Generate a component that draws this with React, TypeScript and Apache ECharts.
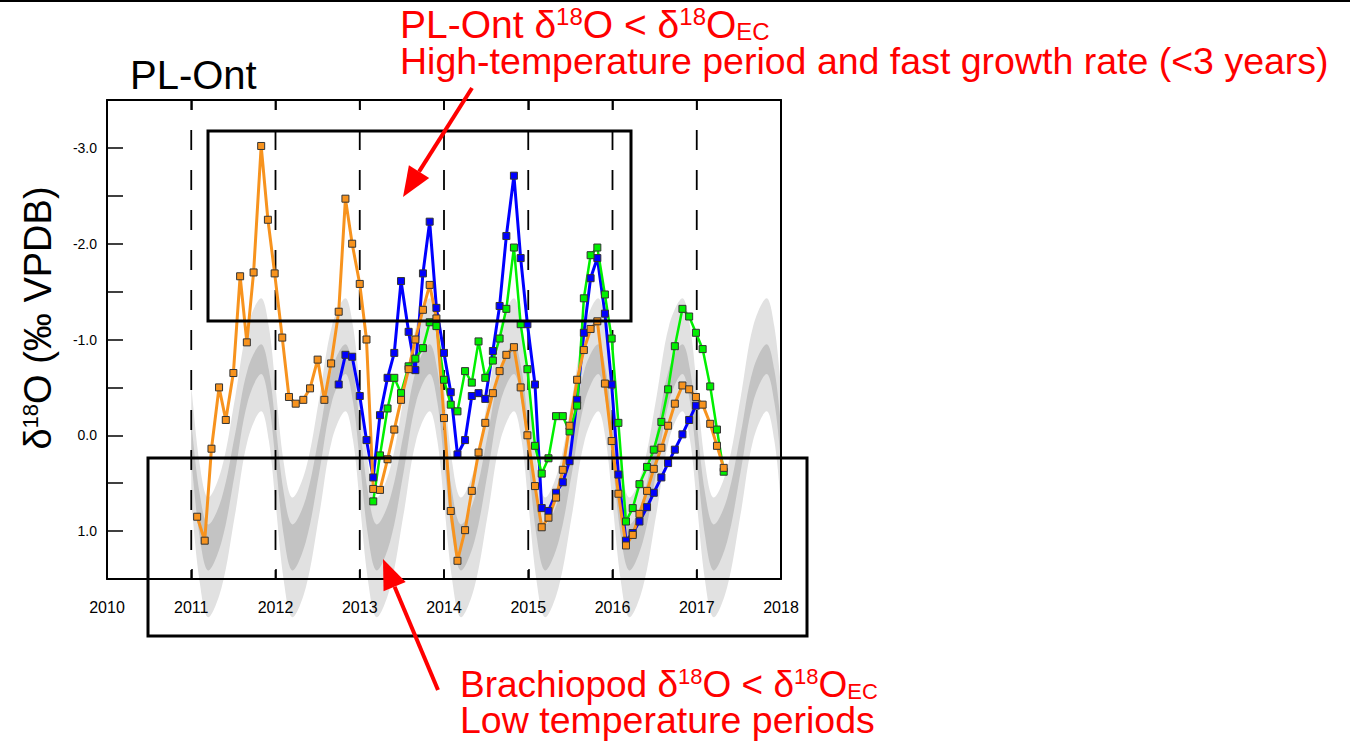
import React, { useEffect, useRef } from "react";
import * as echarts from "echarts";

// Monthly sampling dates (decimal years)
const months = [
  2011.07, 2011.16, 2011.24, 2011.33, 2011.41, 2011.5, 2011.58, 2011.66, 2011.74, 2011.83,
  2011.91, 2011.99, 2012.08, 2012.16, 2012.24, 2012.33, 2012.41, 2012.5, 2012.58, 2012.66,
  2012.75, 2012.83, 2012.91, 2013.0, 2013.08, 2013.16, 2013.24, 2013.33, 2013.41, 2013.49,
  2013.58, 2013.66, 2013.75, 2013.83, 2013.91, 2014.0, 2014.08, 2014.16, 2014.25, 2014.33,
  2014.41, 2014.49, 2014.58, 2014.66, 2014.74, 2014.83, 2014.91, 2014.99, 2015.08, 2015.16,
  2015.24, 2015.33, 2015.41, 2015.49, 2015.58, 2015.66, 2015.74, 2015.82, 2015.91, 2015.99,
  2016.07, 2016.16, 2016.24, 2016.32, 2016.41, 2016.49, 2016.58, 2016.66, 2016.74, 2016.83,
  2016.91, 2016.99, 2017.07, 2017.16, 2017.24, 2017.32,
];

// Orange profile (starts at months[0])
const orangeValues = [
  0.85, 1.1, 0.14, -0.5, -0.16, -0.65, -1.66, -0.97, -1.7, -3.02,
  -2.25, -1.69, -1.02, -0.4, -0.33, -0.37, -0.49, -0.79, -0.37, -0.75,
  -1.29, -2.47, -2.0, -1.58, -1.0, 0.56, 0.57, 0.25, -0.06, -0.37,
  -0.69, -1.0, -1.31, -1.57, -1.22, -0.18, 0.79, 1.31, 0.99, 0.58,
  0.18, -0.13, -0.44, -0.67, -0.84, -0.92, -0.5, 0.0, 0.53, 0.96,
  0.86, 0.65, 0.36, -0.1, -0.58, -0.89, -1.11, -1.19, -0.54, 0.06,
  0.61, 1.15, 1.04, 0.82, 0.58, 0.35, 0.13, -0.1, -0.33, -0.52,
  -0.48, -0.4, -0.32, -0.12, 0.11, 0.34,
];

// Blue profile (starts at months[20])
const blueStart = 20;
const blueValues = [
  -0.53, -0.84, -0.82, -0.41, 0.05, 0.44, -0.21, -0.6, -0.86, -1.61,
  -1.08, -0.68, -1.69, -2.23, -1.33, -0.86, -0.45, 0.2, 0.05, -0.41,
  -0.44, -0.38, -0.88, -1.35, -2.08, -2.71, -1.85, -1.16, -0.53, 0.76,
  0.79, 0.6, 0.49, 0.27, -0.37, -1.07, -1.64, -1.85, -1.27, -0.53,
  0.41, 1.1, 1.02, 0.9, 0.75, 0.6, 0.44, 0.29, 0.15, -0.01,
  -0.16, -0.31,
];

// Green profile (starts at months[25])
const greenStart = 25;
const greenValues = [
  0.69, 0.21, -0.28, -0.6, -0.44, -0.72, -0.8, -0.91, -1.18, -1.14,
  -0.58, -0.32, -0.25, -0.67, -0.55, -0.98, -0.6, -0.78, -1.01, -1.32,
  -1.96, -1.16, -0.69, 0.11, 0.4, 0.24, -0.2, -0.2, -0.04, -0.31,
  -1.43, -1.88, -1.96, -1.47, -1.01, -0.13, 0.9, 0.76, 0.51, 0.33,
  0.15, -0.14, -0.48, -0.93, -1.32, -1.24, -1.07, -0.9, -0.51, -0.06,
  0.38,
];

// Predicted equilibrium δ18O envelope: one annual cycle (phase within year)
const bandPhase = [0, 0.1, 0.2, 0.36, 0.52, 0.67, 0.83, 0.92];
const lightUpper = [-0.51, 0.3, 0.65, 0.35, -0.39, -1.14, -1.43, -1.14];
const darkUpper = [-0.12, 0.61, 0.93, 0.66, -0.01, -0.69, -0.95, -0.69];
const darkLower = [0.26, 1.06, 1.41, 1.11, 0.385, -0.35, -0.64, -0.35];
const lightLower = [0.7, 1.53, 1.9, 1.59, 0.825, 0.05, -0.25, 0.05];
const bandYears = [2011, 2012, 2013, 2014, 2015, 2016, 2017];
const bandEnd = 2018;

const yearLines = [2011, 2012, 2013, 2014, 2015, 2016, 2017];
const xMin = 2010;
const xMax = 2018;
const yMin = -3.5;
const yMax = 1.5;

const FONT = "'Liberation Sans', Arial, Helvetica, sans-serif";

function seriesData(start: number, values: number[]) {
  return values.map((v, i) => [months[start + i], v]);
}

function arrow(tail: number[], tip: number[], len: number, half: number) {
  const dx = tip[0] - tail[0];
  const dy = tip[1] - tail[1];
  const L = Math.sqrt(dx * dx + dy * dy);
  const ux = dx / L;
  const uy = dy / L;
  const bx = tip[0] - ux * len;
  const by = tip[1] - uy * len;
  const px = -uy * half;
  const py = ux * half;
  return [
    {
      type: "line",
      shape: { x1: tail[0], y1: tail[1], x2: bx, y2: by },
      style: { stroke: "#ff0000", lineWidth: 4 },
      z: 100,
    },
    {
      type: "polygon",
      shape: { points: [tip, [bx + px, by + py], [bx - px, by - py]] },
      style: { fill: "#ff0000" },
      z: 100,
    },
  ];
}

function bandSeries(upper: number[], lower: number[], color: string, z: number) {
  return {
    type: "custom",
    data: [[bandYears[0], upper[0]]],
    clip: false,
    silent: true,
    z,
    renderItem: (params: any, api: any) => {
      const up: number[][] = [];
      const lo: number[][] = [];
      bandYears.forEach((yr) => {
        bandPhase.forEach((p, i) => {
          up.push(api.coord([yr + p, upper[i]]));
          lo.push(api.coord([yr + p, lower[i]]));
        });
      });
      up.push(api.coord([bandEnd, upper[0]]));
      lo.push(api.coord([bandEnd, lower[0]]));
      const pts: number[][] = [up[0]];
      up.forEach((p) => pts.push(p));
      pts.push(up[up.length - 1]);
      pts.push(lo[lo.length - 1]);
      for (let i = lo.length - 1; i >= 0; i--) pts.push(lo[i]);
      pts.push(lo[0]);
      return {
        type: "polygon",
        shape: { points: pts, smooth: 0.35 },
        style: { fill: color, stroke: "none" },
      };
    },
  };
}

export default function App() {
  const ref = useRef<HTMLDivElement>(null);
  useEffect(() => {
    if (!ref.current) return;
    const chart = echarts.init(ref.current, undefined, { renderer: "svg" });

    const dataSeries = (name: string, d: number[][], color: string, width: number) => ({
      type: "line",
      name,
      data: d,
      symbol: "rect",
      symbolSize: 7,
      showAllSymbol: true,
      lineStyle: { color, width },
      itemStyle: { color, borderColor: "#333", borderWidth: 1 },
      z: 5,
      silent: true,
    });

    const axisCommon = {
      type: "value",
      min: xMin,
      max: xMax,
      interval: 1,
      splitLine: { show: false },
      axisLine: { show: true, onZero: false, lineStyle: { color: "#000", width: 2 } },
      axisTick: { show: true, inside: true, length: 10, lineStyle: { color: "#000", width: 1.5 } },
      z: 10,
    };

    const redRich = (main: number, small: number) => ({
      m: { fontSize: main, fontFamily: FONT, fill: "#ff0000" },
      s: { fontSize: small, fontFamily: FONT, fill: "#ff0000", verticalAlign: "top" },
      b: { fontSize: small, fontFamily: FONT, fill: "#ff0000", verticalAlign: "bottom" },
    });

    chart.setOption({
      animation: false,
      grid: { left: 107, top: 100, width: 674, height: 479, containLabel: false },
      xAxis: [
        {
          ...axisCommon,
          position: "bottom",
          axisLabel: {
            show: true,
            margin: 20,
            fontSize: 16,
            color: "#000",
            fontFamily: FONT,
            formatter: (v: number) => String(v),
          },
        },
        {
          ...axisCommon,
          position: "top",
          axisLabel: { show: false },
        },
      ],
      yAxis: [
        {
          type: "value",
          inverse: true,
          min: yMin,
          max: yMax,
          interval: 0.5,
          position: "left",
          splitLine: { show: false },
          axisLine: { show: true, onZero: false, lineStyle: { color: "#000", width: 2 } },
          axisTick: { show: true, inside: true, length: 16, lineStyle: { color: "#000", width: 1.5 } },
          axisLabel: {
            margin: 10,
            fontSize: 14,
            color: "#000",
            fontFamily: FONT,
            formatter: (v: number) => (Math.abs(v % 1) < 1e-9 && v > yMin && v < yMax ? v.toFixed(1) : ""),
          },
          z: 10,
        },
        {
          type: "value",
          inverse: true,
          min: yMin,
          max: yMax,
          position: "right",
          splitLine: { show: false },
          axisLine: { show: true, onZero: false, lineStyle: { color: "#000", width: 2 } },
          axisTick: { show: false },
          axisLabel: { show: false },
          z: 10,
        },
      ],
      series: [
        bandSeries(lightUpper, lightLower, "#e1e1e1", 1),
        bandSeries(darkUpper, darkLower, "#c3c3c3", 2),
        {
          type: "custom",
          name: "years",
          data: yearLines.map((y) => [y, 0]),
          clip: false,
          silent: true,
          z: 3,
          renderItem: (params: any, api: any) => {
            const x = api.value(0);
            const top = api.coord([x, yMin]);
            const bot = api.coord([x, yMax]);
            return {
              type: "line",
              shape: { x1: top[0], y1: top[1], x2: bot[0], y2: bot[1] },
              style: { stroke: "#000", lineWidth: 1.8, lineDash: [20, 20], lineDashOffset: 10 },
            };
          },
        },
        dataSeries("blue", seriesData(blueStart, blueValues), "#0000ff", 3),
        dataSeries("green", seriesData(greenStart, greenValues), "#00f000", 2.5),
        dataSeries("orange", seriesData(0, orangeValues), "#f7931e", 3),
      ],
      graphic: [
        { type: "rect", shape: { x: 0, y: 0, width: 1350, height: 2 }, style: { fill: "#000" }, z: 100 },
        {
          type: "rect",
          shape: { x: 208, y: 131, width: 423, height: 190 },
          style: { fill: "none", stroke: "#000", lineWidth: 3 },
          z: 90,
        },
        {
          type: "rect",
          shape: { x: 148, y: 458, width: 659, height: 178 },
          style: { fill: "none", stroke: "#000", lineWidth: 3 },
          z: 90,
        },
        ...arrow([472, 88], [403, 197], 30, 12),
        ...arrow([438, 690], [383, 559], 30, 12),
        {
          type: "text",
          x: 130,
          y: 75,
          style: { text: "PL-Ont", fontSize: 40, fontFamily: FONT, fill: "#000", align: "left", verticalAlign: "middle" },
          z: 100,
        },
        {
          type: "text",
          x: 400,
          y: 24,
          style: {
            text: "{m|PL-Ont δ}{s|18}{m|O < δ}{s|18}{m|O}{b|EC}",
            fontFamily: FONT,
            fill: "#ff0000",
            align: "left",
            verticalAlign: "middle",
            rich: redRich(39, 24),
          },
          z: 100,
        },
        {
          type: "text",
          x: 400,
          y: 61,
          style: {
            text: "High-temperature period and fast growth rate (<3 years)",
            fontSize: 37.5,
            fontFamily: FONT,
            fill: "#ff0000",
            align: "left",
            verticalAlign: "middle",
          },
          z: 100,
        },
        {
          type: "text",
          x: 460,
          y: 684,
          style: {
            text: "{m|Brachiopod δ}{s|18}{m|O < δ}{s|18}{m|O}{b|EC}",
            fontFamily: FONT,
            fill: "#ff0000",
            align: "left",
            verticalAlign: "middle",
            rich: redRich(37, 22),
          },
          z: 100,
        },
        {
          type: "text",
          x: 460,
          y: 720,
          style: {
            text: "Low temperature periods",
            fontSize: 37.5,
            fontFamily: FONT,
            fill: "#ff0000",
            align: "left",
            verticalAlign: "middle",
          },
          z: 100,
        },
        {
          type: "text",
          x: 38,
          y: 318,
          rotation: Math.PI / 2,
          style: {
            text: "{m|δ}{s|18}{m|O (‰ VPDB)}",
            fontFamily: FONT,
            fill: "#000",
            align: "center",
            verticalAlign: "middle",
            rich: {
              m: { fontSize: 38, fontFamily: FONT, fill: "#000" },
              s: { fontSize: 22, fontFamily: FONT, fill: "#000", verticalAlign: "top" },
            },
          },
          z: 100,
        },
      ],
    });
    return () => chart.dispose();
  }, []);
  return <div ref={ref} style={{ position: "absolute", left: 0, top: 0, width: 1350, height: 742 }} />;
}
